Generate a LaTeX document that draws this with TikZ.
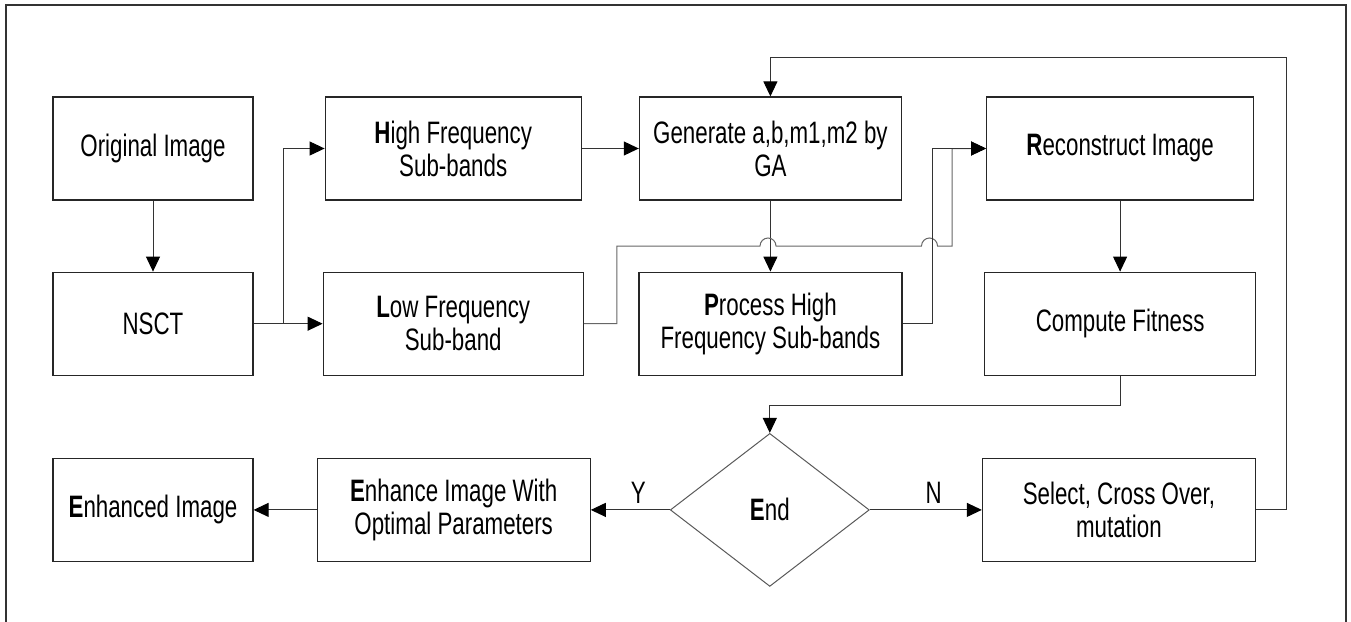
\documentclass[tikz,border=0pt]{standalone}
\usepackage{fontspec}
\setmainfont{Liberation Sans}[FakeStretch=0.72]
\usetikzlibrary{positioning,shapes.geometric,arrows.meta}

\tikzset{
  block/.style={draw=black!85,line width=1.2pt,minimum height=103pt,align=center,inner sep=2pt},
  decision/.style={draw=black!65,line width=1pt,diamond,minimum width=199pt,minimum height=153pt,inner sep=0pt},
  link/.style={draw=black!80,line width=1pt},
  >={Triangle[length=15pt,width=14pt,color=black]}
}

\begin{document}
\begin{tikzpicture}[x=1pt,y=-1pt,font=\fontsize{31}{33}\selectfont]
\useasboundingbox (0,0) rectangle (1351,621);
%the frame
\draw[black!80,line width=1.2pt] (6,630) -- (6,5) -- (1346,5) -- (1346,630);
%the nodes of the flow
\node [block,minimum width=200pt] (orig) at (153,148.5) {Original Image};
\node [block,minimum width=256pt,right=71pt of orig] (high) {\textbf{H}igh Frequency\\Sub-bands};
\node [block,minimum width=262pt,right=57pt of high] (gen) {Generate a,b,m1,m2 by\\GA};
\node [block,minimum width=267pt,right=84pt of gen] (recon) {\textbf{R}econstruct Image};
\node [block,minimum width=200pt,below=71pt of orig] (nsct) {NSCT};
\node [block,minimum width=260pt,below=71pt of high] (low) {\textbf{L}ow Frequency\\Sub-band};
\node [block,minimum width=263pt,below=71pt of gen] (proc) {\textbf{P}rocess High\\Frequency Sub-bands};
\node [block,minimum width=271pt,below=71pt of recon] (comp) {Compute Fitness};
\node [block,minimum width=200pt,below=82pt of nsct] (enh) {\textbf{E}nhanced Image};
\node [block,minimum width=273pt,right=63pt of enh] (enhp) {\textbf{E}nhance Image With\\Optimal Parameters};
\node [decision,right=79pt of enhp] (endd) {\textbf{E}nd};
\node [block,minimum width=273pt,right=112pt of endd] (sel) {Select, Cross Over,\\mutation};
%drawings of lines for the flow
\draw[link,->] (orig) -- (nsct);

\draw[link,->] (nsct) -- (low);

\draw[link,->] (nsct.east) -- ++(30,0) |- (high.west);

\draw[link,->] (high) -- (gen);

\draw[link,->] (gen) -- (proc);

\draw[link,black!60,->] (low.east) -- ++(33,0) |- (760,246) arc[start angle=180,end angle=0,radius=8pt] -- (921.5,246) arc[start angle=180,end angle=0,radius=8pt] -- (952,246) |- (recon.west);

\draw[link,->] (proc.east) -- ++(30,0) |- (recon.west);

\draw[link,->] (recon) -- (comp);

\draw[link,->] (comp.south) -- ++(0,30) -| (endd.north);

\draw[link,->] (endd.west) -- node[pos=0.4,above=3pt] (yes) {Y} (enhp.east);

\draw[link,->] (enhp) -- (enh);

\draw[link,->] (endd.east) -- node[pos=0.57,above=3pt] (no) {N} (sel.west);

\draw[link,->] (sel.east) -- ++(30,0) |- ([yshift=39pt]gen.north) -- (gen.north);

\end{tikzpicture}
\end{document}
